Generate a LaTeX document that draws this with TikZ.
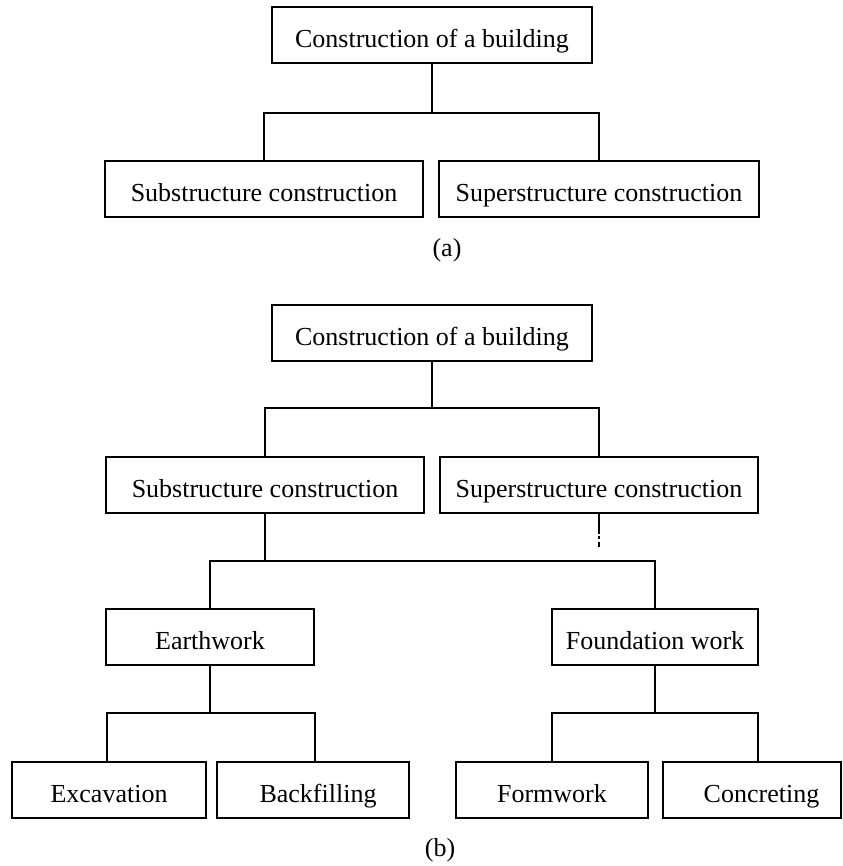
\documentclass[tikz,border=0pt]{standalone}
\usepackage{fontspec}
\setmainfont{Liberation Serif}
\begin{document}
\begin{tikzpicture}[x=1pt,y=-1pt,
  box/.style={draw, line width=1.4pt, inner sep=0pt, minimum height=56pt,
    text height=25pt, text depth=0pt,
    font=\fontsize{26}{30}\selectfont},
  link/.style={line width=1.4pt},
  caption/.style={inner sep=0pt, font=\fontsize{26}{30}\selectfont}]
\useasboundingbox (0,0) rectangle (842,866);

% ---------- (a) two-level breakdown ----------
\node[box, minimum width=320pt] (ta) at (432,35) {Construction of a building};
\node[box, minimum width=318pt] (sa) at (264,189) {Substructure construction};
\node[box, minimum width=320pt] (pa) at (599,189) {Superstructure construction};
\node[caption] (capa) at (447,250) {(a)};

\coordinate (ja) at (432,113);
\draw[link] (ta.south) -- (ja);
\draw[link] (sa.north) |- (ja) -| (pa.north);

% ---------- (b) four-level breakdown ----------
\node[box, minimum width=320pt] (tb) at (432,333) {Construction of a building};
\node[box, minimum width=318pt] (sb) at (265,485) {Substructure construction};
\node[box, minimum width=318pt] (pb) at (599,485) {Superstructure construction};
\node[box, minimum width=208pt] (eb) at (210,637) {Earthwork};
\node[box, minimum width=206pt] (fb) at (655,637) {Foundation work};
\node[box, minimum width=194pt] (xb) at (109,790) {Excavation};
\node[box, minimum width=192pt] (kb) at (313,790) {\hspace*{10pt}Backfilling};
\node[box, minimum width=192pt] (mb) at (552,790) {Formwork};
\node[box, minimum width=178pt] (cb) at (752,790) {\hspace*{19pt}Concreting};
\node[caption] (capb) at (440,850) {(b)};

\coordinate (jb1) at (432,408);
\draw[link] (tb.south) -- (jb1);
\draw[link] (sb.north) |- (jb1) -| (pb.north);

\coordinate (jb2) at (265,561);
\draw[link] (sb.south) -- (jb2);
\draw[link] (eb.north) |- (jb2) -| (fb.north);
\draw[link, dash pattern=on 20pt off 2pt on 3pt off 3pt on 5pt off 10pt]
  (pb.south) -- ++(0,33);

\coordinate (jb3) at (210,713);
\draw[link] (eb.south) -- (jb3);
\draw[link] ([xshift=-2pt]xb.north) |- (jb3) -| ([xshift=2pt]kb.north);

\coordinate (jb4) at (655,713);
\draw[link] (fb.south) -- (jb4);
\draw[link] (mb.north) |- (jb4) -| ([xshift=6pt]cb.north);
\end{tikzpicture}
\end{document}
